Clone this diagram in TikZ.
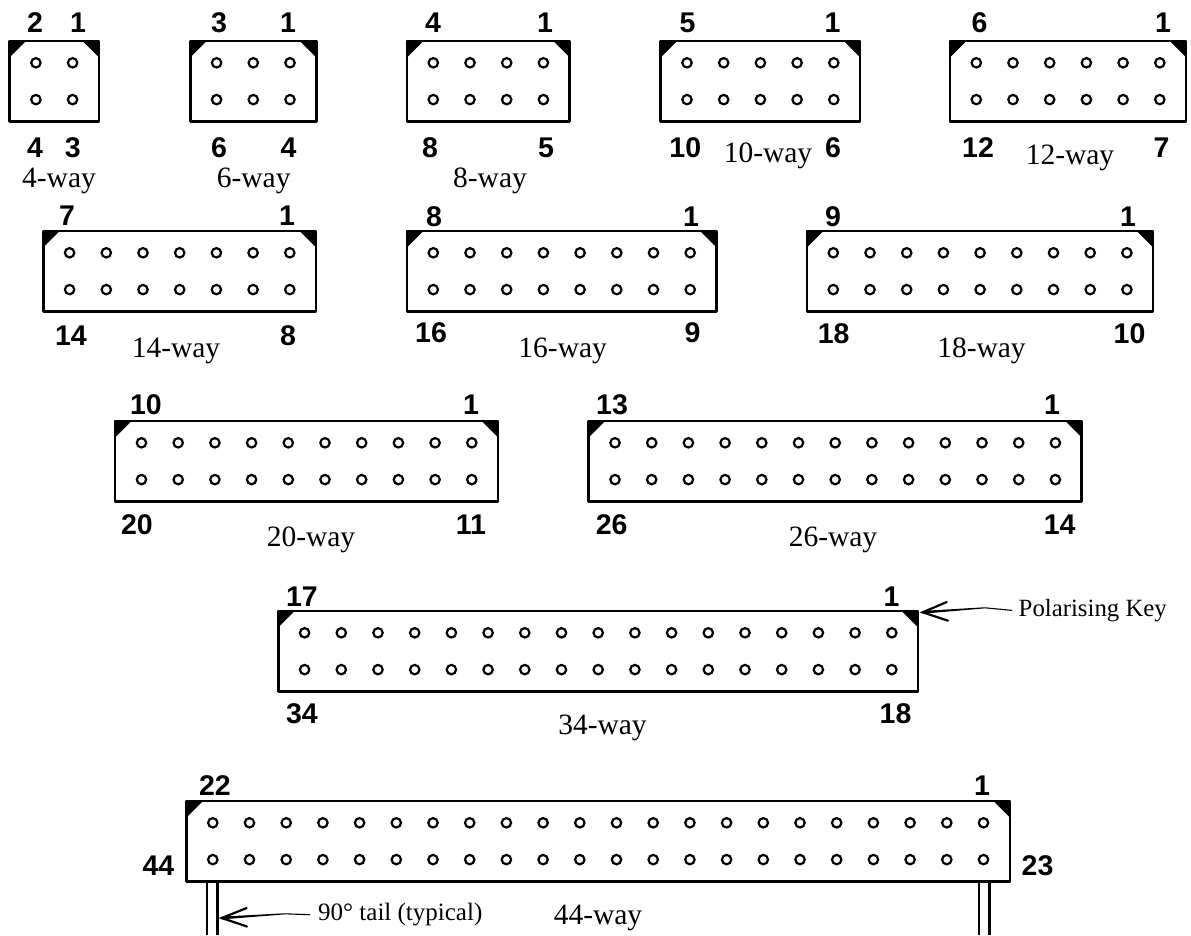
\documentclass[tikz,border=0pt]{standalone}
\usepackage{fontspec}
\setmainfont{Liberation Serif}
\newfontfamily\numfont{Liberation Sans}
\tikzset{
  x=1pt,y=-1pt,
  body/.style={draw=black,line width=2.5pt,line join=round,fill=white},
  keytri/.style={fill=black,draw=black,line width=0.5pt,line join=round},
  pin/.style={circle,draw=black,line width=2.2pt,fill=white,minimum size=9.4pt,inner sep=0pt,outer sep=0pt},
  pinnum/.style={inner sep=0pt,font=\numfont\bfseries\fontsize{28.5}{28.5}\selectfont},
  waylabel/.style={inner sep=0pt,font=\fontsize{29.5}{30}\selectfont},
  keynote/.style={inner sep=0pt,font=\fontsize{24.8}{26}\selectfont},
  tailnote/.style={inner sep=0pt,font=\fontsize{25}{26}\selectfont},
  leader/.style={draw=black,line width=1.1pt},
  leaderthick/.style={fill=black},
  barb/.style={draw=black,line width=2.2pt,line cap=round,line join=miter},
  tail/.style={draw=black,line width=2.3pt}
}
% #1 name, #2 first pin x, #3 top y, #4 pins per row
\newcommand{\connector}[4]{%
  \pgfmathsetmacro{\xl}{#2-26.3}
  \pgfmathsetmacro{\xr}{#2+(#4-1)*36.7+26.3}
  \pgfmathsetmacro{\yb}{#3+80.5}
  \path[body] (\xl,#3) rectangle (\xr,\yb);
  \path[keytri] (\xl,#3) -- (\xl+16,#3) -- (\xl,#3+16) -- cycle;
  \path[keytri] (\xr,#3) -- (\xr-16,#3) -- (\xr,#3+16) -- cycle;
  \foreach \i in {1,...,#4}{
    \pgfmathsetmacro{\px}{#2+(\i-1)*36.7}
    \node[pin] (#1t\i) at (\px,#3+21.8) {};
    \node[pin] (#1b\i) at (\px,#3+58.6) {};
  }%
}
\begin{document}
\begin{tikzpicture}
\useasboundingbox (0,0) rectangle (1191,935);
\fill[white] (0,0) rectangle (1191,935);
% tails of the 44-way
\coordinate (tla) at (207,881); \coordinate (tlb) at (217.5,881);
\coordinate (tra) at (979,881); \coordinate (trb) at (989.5,881);
\coordinate (tlaE) at (207,935); \coordinate (tlbE) at (217.5,935);
\coordinate (traE) at (979,935); \coordinate (trbE) at (989.5,935);
\draw[tail] (tla) -- (tlaE); \draw[tail] (tlb) -- (tlbE);
\draw[tail] (tra) -- (traE); \draw[tail] (trb) -- (trbE);

\connector{c4}{35.9}{41}{2}
\connector{c6}{216.6}{41}{3}
\connector{c8}{433.3}{41}{4}
\connector{c10}{687}{41}{5}
\connector{c12}{976.3}{41}{6}
\connector{c14}{69.6}{231}{7}
\connector{c16}{433.3}{231}{8}
\connector{c18}{833.3}{231}{9}
\connector{c20}{141.5}{421}{10}
\connector{c26}{615}{421}{13}
\connector{c34}{304.6}{611}{17}
\connector{c44}{212.8}{801}{22}

% 4-way
\node[pinnum] (n4a) at (35,22.5) {2};
\node[pinnum] (n4b) at (78,22.5) {1};
\node[pinnum] (n4c) at (35,148) {4};
\node[pinnum] (n4d) at (72.7,148) {3};
\node[waylabel] (w4) at (59,180.5) {4-way};
% 6-way
\node[pinnum] (n6a) at (219,22.5) {3};
\node[pinnum] (n6b) at (288,22.5) {1};
\node[pinnum] (n6c) at (219,148) {6};
\node[pinnum] (n6d) at (288.5,148) {4};
\node[waylabel] (w6) at (253.7,180.5) {6-way};
% 8-way
\node[pinnum] (n8a) at (433,22.5) {4};
\node[pinnum] (n8b) at (545,22.5) {1};
\node[pinnum] (n8c) at (430,148) {8};
\node[pinnum] (n8d) at (546,148) {5};
\node[waylabel] (w8) at (490,180.5) {8-way};
% 10-way
\node[pinnum] (n10a) at (687.5,22.7) {5};
\node[pinnum] (n10b) at (832.6,22.7) {1};
\node[pinnum] (n10c) at (685.3,148) {10};
\node[pinnum] (n10d) at (833,148) {6};
\node[waylabel] (w10) at (768,155.5) {10-way};
% 12-way
\node[pinnum] (n12a) at (979.6,22.7) {6};
\node[pinnum] (n12b) at (1163,22.7) {1};
\node[pinnum] (n12c) at (978,148) {12};
\node[pinnum] (n12d) at (1161.6,148) {7};
\node[waylabel] (w12) at (1070,157.5) {12-way};
% 14-way
\node[pinnum] (n14a) at (67,215.5) {7};
\node[pinnum] (n14b) at (287,215.5) {1};
\node[pinnum] (n14c) at (71,335.7) {14};
\node[pinnum] (n14d) at (288,335.7) {8};
\node[waylabel] (w14) at (176,350.5) {14-way};
% 16-way
\node[pinnum] (n16a) at (434,217) {8};
\node[pinnum] (n16b) at (691,217) {1};
\node[pinnum] (n16c) at (431,333) {16};
\node[pinnum] (n16d) at (692.5,333) {9};
\node[waylabel] (w16) at (562.7,350.5) {16-way};
% 18-way
\node[pinnum] (n18a) at (833,217) {9};
\node[pinnum] (n18b) at (1128,217) {1};
\node[pinnum] (n18c) at (833.7,334) {18};
\node[pinnum] (n18d) at (1129.5,334) {10};
\node[waylabel] (w18) at (981.5,350.5) {18-way};
% 20-way
\node[pinnum] (n20a) at (146,404.5) {10};
\node[pinnum] (n20b) at (471,404.5) {1};
\node[pinnum] (n20c) at (137,525) {20};
\node[pinnum] (n20d) at (471,525) {11};
\node[waylabel] (w20) at (311,539.5) {20-way};
% 26-way
\node[pinnum] (n26a) at (612,404.5) {13};
\node[pinnum] (n26b) at (1052,404.5) {1};
\node[pinnum] (n26c) at (611.7,525) {26};
\node[pinnum] (n26d) at (1059.7,525) {14};
\node[waylabel] (w26) at (833,539.5) {26-way};
% 34-way
\node[pinnum] (n34a) at (302,597) {17};
\node[pinnum] (n34b) at (891.5,597) {1};
\node[pinnum] (n34c) at (302,714) {34};
\node[pinnum] (n34d) at (895.5,714) {18};
\node[waylabel] (w34) at (602.5,727.5) {34-way};
% 44-way
\node[pinnum] (n44a) at (215,786) {22};
\node[pinnum] (n44b) at (982,786) {1};
\node[pinnum] (n44c) at (158.5,866) {44};
\node[pinnum] (n44d) at (1037.5,866) {23};
\node[waylabel] (w44) at (598,918) {44-way};

% annotations
\node[keynote,anchor=west] (pk) at (1018.5,611) {Polarising Key};
\node[tailnote,anchor=west] (tl) at (318,915) {90° tail (typical)};
\coordinate (pktip) at (922.7,612.3);
\coordinate (pkmid) at (985,607.8);
\coordinate (pkup) at (946.7,602);
\coordinate (pkdn) at (948,620.7);
\coordinate (tltip) at (221.7,918);
\coordinate (tlmid) at (285,913.8);
\coordinate (tlup) at (246.7,908);
\coordinate (tldn) at (247,926.5);
\draw[leader,shorten <=6.5pt] (pk.west) -- (pkmid);
\fill[leaderthick] ([yshift=-0.55pt]pkmid) -- ([yshift=-1.4pt]pktip) -- ([yshift=1.4pt]pktip) -- ([yshift=0.55pt]pkmid) -- cycle;
\draw[barb] (pkup) -- (pktip) -- (pkdn);
\draw[leader,shorten <=8pt] (tl.west) -- (tlmid);
\fill[leaderthick] ([yshift=-0.55pt]tlmid) -- ([yshift=-1.4pt]tltip) -- ([yshift=1.4pt]tltip) -- ([yshift=0.55pt]tlmid) -- cycle;
\draw[barb] (tlup) -- (tltip) -- (tldn);
\end{tikzpicture}
\end{document}
